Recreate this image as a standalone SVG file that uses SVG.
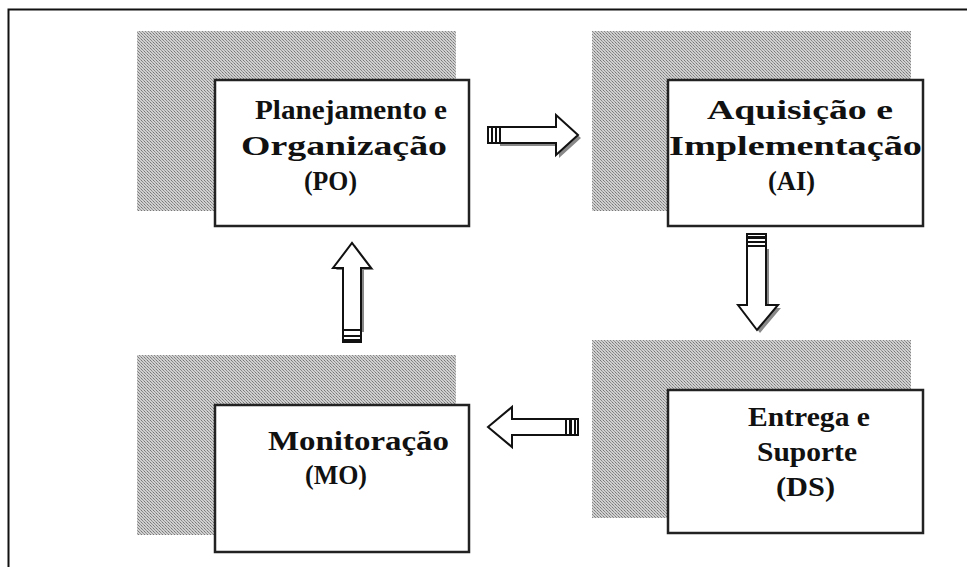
<svg xmlns="http://www.w3.org/2000/svg" width="967" height="567" viewBox="0 0 967 567">
<defs>
<pattern id="dots" width="3" height="3" patternUnits="userSpaceOnUse">
<rect width="3" height="3" fill="#d0d0d0"/>
<rect x="0" y="0" width="1" height="1" fill="#777"/>
<rect x="1" y="1" width="1" height="1" fill="#888"/>
<rect x="2" y="2" width="1" height="1" fill="#999"/>
</pattern>
<style>
.sh{fill:url(#dots)}
.box{fill:#fff;stroke:#222;stroke-width:2.5}
.t{font-family:"Liberation Serif","Times New Roman",serif;font-weight:bold;font-size:28px;fill:#111}
.ar{fill:#fff;stroke:#111;stroke-width:2}
.as{fill:#888}
.st{fill:#111}
</style>
</defs>
<rect width="967" height="567" fill="#fff"/>
<path d="M8.5 567 V9.5 H967" fill="none" stroke="#111" stroke-width="2"/>
<g id="PO">
<rect class="sh" x="137" y="31" width="319" height="180"/>
<rect class="box" x="215" y="80" width="254" height="146"/>
<text class="t" x="255" y="119" textLength="192" lengthAdjust="spacingAndGlyphs">Planejamento e</text>
<text class="t" x="241" y="155" textLength="206" lengthAdjust="spacingAndGlyphs">Organização</text>
<text class="t" x="304" y="190" textLength="53" lengthAdjust="spacingAndGlyphs">(PO)</text>
</g>
<g id="AI">
<rect class="sh" x="592" y="31" width="319" height="180"/>
<rect class="box" x="668" y="80" width="255" height="146"/>
<text class="t" x="707" y="119" textLength="186" lengthAdjust="spacingAndGlyphs">Aquisição e</text>
<text class="t" x="669" y="155" textLength="253" lengthAdjust="spacingAndGlyphs">Implementação</text>
<text class="t" x="768" y="190" textLength="47" lengthAdjust="spacingAndGlyphs">(AI)</text>
</g>
<g id="DS">
<rect class="sh" x="592" y="340" width="319" height="178"/>
<rect class="box" x="668" y="390" width="255" height="143"/>
<text class="t" x="748" y="426" textLength="122" lengthAdjust="spacingAndGlyphs">Entrega e</text>
<text class="t" x="757" y="461" textLength="100" lengthAdjust="spacingAndGlyphs">Suporte</text>
<text class="t" x="776" y="496" textLength="59" lengthAdjust="spacingAndGlyphs">(DS)</text>
</g>
<g id="MO">
<rect class="sh" x="137" y="355" width="319" height="180"/>
<rect class="box" x="215" y="405" width="254" height="147"/>
<text class="t" x="268" y="450" textLength="181" lengthAdjust="spacingAndGlyphs">Monitoração</text>
<text class="t" x="305" y="484" textLength="62" lengthAdjust="spacingAndGlyphs">(MO)</text>
</g>
<g id="connectors">
<path class="as" d="M500 130 H559 V118 L581 138 L559 158 V146 H500 Z"/>
<path class="ar" d="M500 127 H556 V115 L578 135 L556 155 V143 H500 Z"/>
<rect class="ar" x="488" y="127" width="12" height="16"/>
<rect class="st" x="491" y="127" width="2" height="16"/>
<rect class="st" x="495" y="127" width="2" height="16"/>
<path class="as" d="M750 249 H769 V308 H781 L760 333 L741 308 H750 Z"/>
<path class="ar" d="M747 246 H766 V305 H778 L757 330 L738 305 H747 Z"/>
<rect class="ar" x="747" y="234" width="19" height="12"/>
<rect class="st" x="747" y="236" width="19" height="3"/>
<rect class="st" x="747" y="241" width="19" height="2"/>
<path class="ar" d="M566 419 H512 V407 L488 427 L512 447 V435 H566 Z"/>
<rect class="ar" x="566" y="419" width="12" height="16"/>
<rect class="st" x="569" y="419" width="3" height="16"/>
<rect class="st" x="574" y="419" width="2" height="16"/>
<path class="as" d="M346 332 H364 V270 H374 L355 245 L336 270 H346 Z"/>
<path class="ar" d="M343 330 H361 V268 H371 L352 243 L333 268 H343 Z"/>
<rect class="ar" x="343" y="330" width="18" height="12"/>
<rect class="st" x="343" y="335" width="18" height="2"/>
<rect class="st" x="343" y="339" width="18" height="3"/>
</g>
</svg>
